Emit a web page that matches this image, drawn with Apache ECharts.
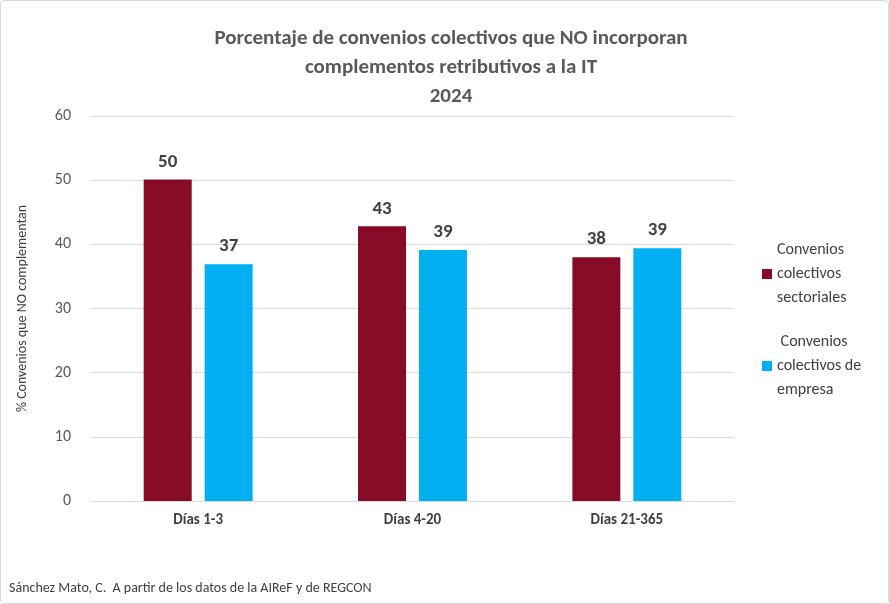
<!DOCTYPE html>
<html><head><meta charset="utf-8">
<script src="https://cdn.jsdelivr.net/npm/echarts@6/dist/echarts.min.js"></script>
<style>html,body{margin:0;padding:0;background:#fff}#c{width:889px;height:604px;box-sizing:border-box;border:1px solid #d9d9d9;border-radius:4px}</style>
</head><body><div id="c"></div>
<script>
const categories = ['Días 1-3', 'Días 4-20', 'Días 21-365'];
const sectoriales = [50.1, 42.8, 38.0];
const empresa = [36.9, 39.1, 39.4];
const seriesNames = ['Convenios colectivos sectoriales', 'Convenios colectivos de empresa'];
const legendText = {'Convenios colectivos sectoriales':'Convenios\ncolectivos\nsectoriales','Convenios colectivos de empresa':' Convenios\ncolectivos de\nempresa'};
const font = 'Calibri, Carlito, "Liberation Sans", "Open Sans", sans-serif';
const chart = echarts.init(document.getElementById('c'));
const lbl = {show:true, position:'top', distance:8, fontSize:19, fontWeight:'bold', color:'#404040', fontFamily:font, formatter:p=>Math.round(p.value)};
chart.setOption({
  animation:false,
  title:{text:'Porcentaje de convenios colectivos que NO incorporan\ncomplementos retributivos a la IT\n2024', left:445, top:18, textAlign:'center',
    textStyle:{fontSize:21, fontWeight:'bold', color:'#595959', fontFamily:font, lineHeight:29}},
  graphic:[{type:'text', left:8, top:580, style:{text:'Sánchez Mato, C.  A partir de los datos de la AIReF y de REGCON', fontSize:14, fill:'#404040', fontFamily:font}}],
  legend:{orient:'vertical', left:756, top:232, itemWidth:10, itemHeight:10, itemGap:20, icon:'rect',
    formatter:n=>legendText[n], textStyle:{fontSize:16, color:'#404040', fontFamily:font, lineHeight:24}},
  grid:{left:90, right:154, top:115, bottom:102},
  xAxis:{type:'category', data:categories, axisTick:{show:false}, axisLine:{lineStyle:{color:'#d9d9d9'}},
    axisLabel:{fontSize:15, fontWeight:'bold', color:'#404040', fontFamily:font, margin:12}},
  yAxis:{type:'value', min:0, max:60, interval:10, name:'% Convenios que NO complementan', nameLocation:'middle', nameGap:62,
    nameTextStyle:{fontSize:14, color:'#404040', fontFamily:font},
    axisLabel:{fontSize:16, color:'#595959', fontFamily:font, margin:20}, splitLine:{lineStyle:{color:'#d9d9d9'}}},
  series:[
    {name:seriesNames[0], type:'bar', data:sectoriales, barWidth:48, barGap:'27%', itemStyle:{color:'#870B27'}, label:lbl},
    {name:seriesNames[1], type:'bar', data:empresa, barWidth:48, itemStyle:{color:'#00B0F0'}, label:lbl}
  ]
});
</script></body></html>
